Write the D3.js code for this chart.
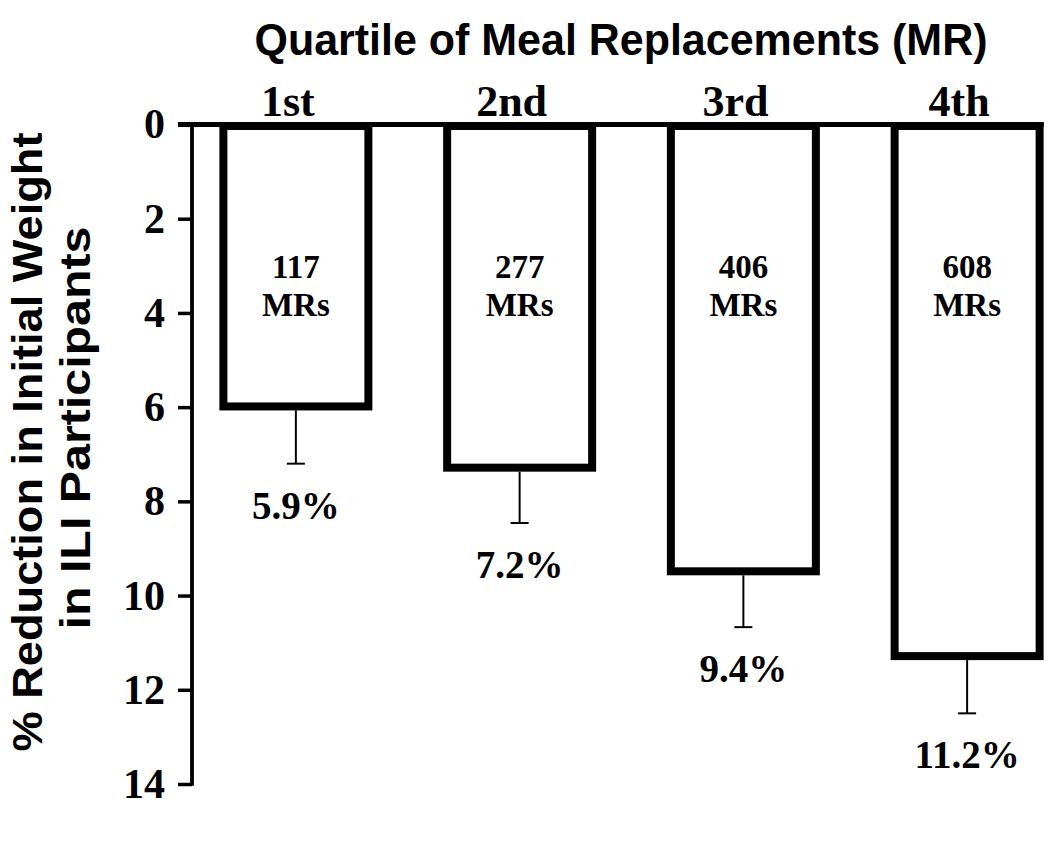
<!DOCTYPE html>
<html>
<head>
<meta charset="utf-8">
<script src="https://cdn.jsdelivr.net/npm/d3@7"></script>
<style>
  html, body { margin: 0; padding: 0; background: #fff; }
  svg { display: block; }
</style>
</head>
<body>
<svg id="chart" width="1050" height="856"></svg>
<script>
const quartiles = ["1st", "2nd", "3rd", "4th"];
const reduction = [5.9, 7.2, 9.4, 11.2];
const errorUp = [1.3, 1.26, 1.27, 1.3];
const mrCounts = ["117", "277", "406", "608"];
const valueLabels = ["5.9%", "7.2%", "9.4%", "11.2%"];
const yTicks = [0, 2, 4, 6, 8, 10, 12, 14];

const svg = d3.select("#chart");
const serif = "'Liberation Serif', 'Times New Roman', serif";
const sans = "'Liberation Sans', Arial, sans-serif";

const y = d3.scaleLinear().domain([0, 14]).range([124.5, 784]);
const x = d3.scaleBand().domain(quartiles).range([184, 1079])
  .paddingInner(0.352).paddingOuter(0.176);

const axisX = 192;

// y axis
const yAxis = d3.axisLeft(y).tickValues(yTicks).tickSize(14).tickPadding(13)
  .tickFormat(d3.format("d"));
const gy = svg.append("g").attr("transform", `translate(${axisX},0)`).call(yAxis);
gy.select(".domain").remove();
gy.selectAll(".tick line").attr("stroke", "#000").attr("stroke-width", 3.5);
gy.selectAll(".tick text").attr("font-family", serif).attr("font-weight", "bold")
  .attr("font-size", 42).attr("fill", "#000");
gy.append("line").attr("x1", 0).attr("x2", 0).attr("y1", y(0)).attr("y2", y(14) + 1.75)
  .attr("stroke", "#000").attr("stroke-width", 3.8);

// top axis line (value 0)
svg.append("line")
  .attr("x1", axisX - 14).attr("x2", x(quartiles[3]) + x.bandwidth() + 4)
  .attr("y1", y(0)).attr("y2", y(0))
  .attr("stroke", "#000").attr("stroke-width", 5);

// bars
const data = quartiles.map((q, i) => ({ q, v: reduction[i], e: errorUp[i], n: mrCounts[i], lab: valueLabels[i] }));

svg.selectAll("rect.bar").data(data).join("rect").attr("class", "bar")
  .attr("x", d => x(d.q))
  .attr("y", y(0) + 1.5)
  .attr("width", x.bandwidth())
  .attr("height", d => y(d.v) + 4 - (y(0) + 1.5))
  .attr("fill", "#fff").attr("stroke", "#000").attr("stroke-width", 8);

// error bars
const cx = d => x(d.q) + x.bandwidth() / 2;
svg.selectAll("line.err").data(data).join("line").attr("class", "err")
  .attr("x1", cx).attr("x2", cx)
  .attr("y1", d => y(d.v) + 8).attr("y2", d => y(d.v + d.e))
  .attr("stroke", "#000").attr("stroke-width", 2);
svg.selectAll("line.cap").data(data).join("line").attr("class", "cap")
  .attr("x1", d => cx(d) - 9).attr("x2", d => cx(d) + 9)
  .attr("y1", d => y(d.v + d.e)).attr("y2", d => y(d.v + d.e))
  .attr("stroke", "#000").attr("stroke-width", 2);

// value labels
svg.selectAll("text.val").data(data).join("text").attr("class", "val")
  .attr("x", cx).attr("y", d => y(d.v + d.e) + 55)
  .attr("text-anchor", "middle").attr("font-family", serif).attr("font-weight", "bold")
  .attr("font-size", 39).attr("fill", "#000").text(d => d.lab);

// MR labels inside bars
const inner = svg.selectAll("text.mr").data(data).join("text").attr("class", "mr")
  .attr("text-anchor", "middle").attr("font-family", serif).attr("font-weight", "bold")
  .attr("font-size", 33).attr("fill", "#000");
inner.append("tspan").attr("x", cx).attr("y", y(3.25)).text(d => d.n);
inner.append("tspan").attr("x", cx).attr("y", y(4.06)).text("MRs");

// category labels
svg.selectAll("text.cat").data(data).join("text").attr("class", "cat")
  .attr("x", d => cx(d) - 8).attr("y", 116)
  .attr("text-anchor", "middle").attr("font-family", serif).attr("font-weight", "bold")
  .attr("font-size", 44).attr("fill", "#000").text(d => d.q);

// title
svg.append("text").attr("x", 621).attr("y", 55).attr("text-anchor", "middle")
  .attr("font-family", sans).attr("font-weight", "bold").attr("font-size", 44)
  .attr("textLength", 733).attr("lengthAdjust", "spacingAndGlyphs")
  .attr("fill", "#000").text("Quartile of Meal Replacements (MR)");

// y axis title
const yt = svg.append("g").attr("transform", "translate(0,442) rotate(-90)");
yt.append("text").attr("x", 0).attr("y", 42).attr("text-anchor", "middle")
  .attr("font-family", sans).attr("font-weight", "bold").attr("font-size", 42)
  .attr("textLength", 619).attr("lengthAdjust", "spacingAndGlyphs")
  .attr("fill", "#000").text("% Reduction in Initial Weight");
yt.append("text").attr("x", 14).attr("y", 90).attr("text-anchor", "middle")
  .attr("font-family", sans).attr("font-weight", "bold").attr("font-size", 42)
  .attr("textLength", 403).attr("lengthAdjust", "spacingAndGlyphs")
  .attr("fill", "#000").text("in ILI Participants");
</script>
</body>
</html>
